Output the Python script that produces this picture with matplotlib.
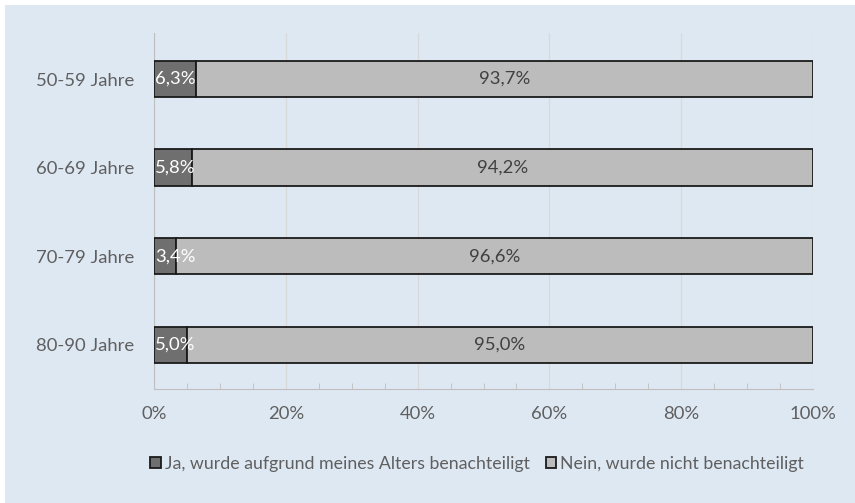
import matplotlib.pyplot as plt
from matplotlib.patches import Rectangle
from matplotlib.ticker import MultipleLocator

plt.rcParams['font.family'] = ['Lato', 'DejaVu Sans']

groups = ['50-59 Jahre', '60-69 Jahre', '70-79 Jahre', '80-90 Jahre']
ja = [6.3, 5.8, 3.4, 5.0]
nein = [93.7, 94.2, 96.6, 95.0]
ja_labels = ['6,3%', '5,8%', '3,4%', '5,0%']
nein_labels = ['93,7%', '94,2%', '96,6%', '95,0%']
series_names = ['Ja, wurde aufgrund meines Alters benachteiligt', 'Nein, wurde nicht benachteiligt']

bg = '#DEE8F3'
dark = '#6F6F6F'
light = '#BCBCBC'
txt = '#5F5F5F'
fs = 13.3

fig = plt.figure(figsize=(8.55, 5.03), dpi=100)
fig.patch.set_facecolor('white')
fig.patches.append(Rectangle((5 / 855, 0), 1, 1 - 5 / 503, transform=fig.transFigure,
                             facecolor=bg, edgecolor='none', zorder=-10))

ax = fig.add_axes([154 / 855, 1 - 389 / 503, (813 - 154) / 855, (389 - 33) / 503])
ax.set_facecolor('none')

y = list(range(len(groups)))
b1 = ax.barh(y, ja, height=0.41, color=dark, edgecolor='#1a1a1a', linewidth=1.3,
             label=series_names[0], zorder=3)
b2 = ax.barh(y, nein, left=ja, height=0.41, color=light, edgecolor='#1a1a1a', linewidth=1.3,
             label=series_names[1], zorder=3)

for i in y:
    ax.text(0.15, i, ja_labels[i], ha='left', va='center', color='white', fontsize=fs, zorder=4)
    ax.text(ja[i] + nein[i] / 2, i, nein_labels[i], ha='center', va='center',
            color='#404040', fontsize=fs, zorder=4)

ax.set_xlim(0, 100)
ax.set_ylim(3.5, -0.52)
ax.set_yticks(y)
ax.set_yticklabels(groups)
ax.set_xticks([0, 20, 40, 60, 80, 100])
ax.set_xticklabels(['0%', '20%', '40%', '60%', '80%', '100%'])
ax.xaxis.set_minor_locator(MultipleLocator(5))
ax.tick_params(axis='x', which='both', direction='in', colors='#BFBFBF', labelcolor=txt,
               labelsize=fs, pad=12)
ax.tick_params(axis='x', which='major', length=0)
ax.tick_params(axis='x', which='minor', length=4)
ax.tick_params(axis='y', length=0, labelcolor=txt, labelsize=fs, pad=14)
ax.grid(axis='x', which='major', color='#D9D9D9', linewidth=1, zorder=0)

for s in ['top', 'right']:
    ax.spines[s].set_visible(False)
ax.spines['left'].set_color('#BFBFBF')
ax.spines['bottom'].set_color('#BFBFBF')

fig.legend(handles=[b1, b2], loc='center', bbox_to_anchor=(477 / 855, 1 - 464 / 503), ncol=2,
           frameon=False, fontsize=12.8, labelcolor=txt, handlelength=0.6, handleheight=0.6,
           handletextpad=0.2, columnspacing=0.9)

fig.savefig('out.png', dpi=100)
